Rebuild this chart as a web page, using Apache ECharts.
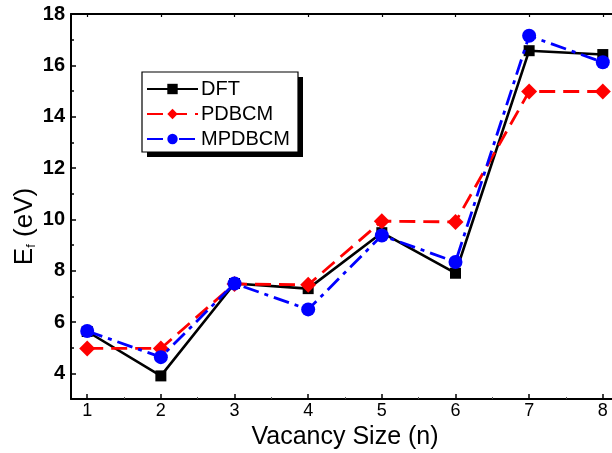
<!DOCTYPE html>
<html>
<head>
<meta charset="utf-8">
<script src="https://cdn.jsdelivr.net/npm/echarts@6/dist/echarts.min.js"></script>
<style>html,body{margin:0;padding:0;background:#fff;}#c{width:612px;height:453px;}</style>
</head>
<body>
<div id="c"></div>
<script>
var sizes = [1, 2, 3, 4, 5, 6, 7, 8];
var dft = [5.63, 3.9, 7.5, 7.3, 9.48, 7.9, 16.57, 16.42];
var pdbcm = [4.97, 4.97, 7.48, 7.45, 9.93, 9.9, 14.98, 14.98];
var mpdbcm = [5.65, 4.63, 7.5, 6.49, 9.37, 8.34, 17.15, 16.12];
var yMajor = [4, 6, 8, 10, 12, 14, 16, 18];
var xMinor = [1.5, 2.5, 3.5, 4.5, 5.5, 6.5, 7.5];

function pairs(v) { return sizes.map(function (x, i) { return [x, v[i]]; }); }

var chart = echarts.init(document.getElementById('c'), null, {renderer: 'canvas'});
var font = 'Liberation Sans, Arial, sans-serif';
var axisLine = {show: true, onZero: false, lineStyle: {color: '#000', width: 2}};
var grid = {left: 71, top: 14, right: -7, bottom: 54, containLabel: false, outerBoundsMode: 'none'};
var xBase = {type: 'value', min: 0.78, max: 8.22, splitLine: {show: false}};

chart.setOption({
  backgroundColor: '#fff',
  animation: false,
  grid: grid,
  graphic: [
    {type: 'rect', z: 10, shape: {x: 147, y: 77, width: 156, height: 80}, style: {fill: '#000'}},
    {type: 'rect', z: 11, shape: {x: 142, y: 72, width: 156, height: 80}, style: {fill: '#fff', stroke: '#000', lineWidth: 1.2}}
  ],
  legend: {
    orient: 'vertical', left: 146, top: 79, z: 20, padding: 0,
    itemWidth: 51, itemHeight: 13, itemGap: 5,
    textStyle: {fontFamily: font, fontSize: 20, color: '#000', padding: [0, 0, 0, -2]},
    data: ['DFT', 'PDBCM', 'MPDBCM']
  },
  xAxis: [
    Object.assign({}, xBase, {
      position: 'bottom', name: 'Vacancy Size (n)', nameLocation: 'middle', nameGap: 20,
      nameTextStyle: {fontFamily: font, fontSize: 25, color: '#000'},
      axisLine: axisLine,
      axisTick: {show: true, inside: true, length: 5, lineStyle: {width: 1.5, color: '#000'}, customValues: sizes},
      axisLabel: {show: true, customValues: sizes, margin: 3, fontFamily: font, fontSize: 18, color: '#000'}
    }),
    Object.assign({}, xBase, {
      position: 'bottom', gridIndex: 0,
      axisLine: {show: false},
      axisTick: {show: true, inside: true, length: 2, lineStyle: {width: 1, color: '#555'}, customValues: xMinor},
      axisLabel: {show: false}
    }),
    Object.assign({}, xBase, {
      position: 'top',
      axisLine: axisLine,
      axisTick: {show: true, inside: true, length: 3, lineStyle: {width: 1.2, color: '#000'}, customValues: sizes},
      axisLabel: {show: false}
    })
  ],
  yAxis: [
    {
      type: 'value', min: 3, max: 18, position: 'left',
      name: '{a|E}{b|f}{a| (eV)}', nameLocation: 'middle', nameGap: 33, nameMoveOverlap: false,
      nameTextStyle: {padding: [0, 40, 0, 0], rich: {
        a: {fontFamily: font, fontSize: 26, color: '#000'},
        b: {fontFamily: font, fontSize: 13, color: '#000', padding: [13, 0, 0, 0]}
      }},
      splitLine: {show: false},
      axisLine: axisLine,
      axisTick: {show: true, inside: true, length: 5, lineStyle: {width: 1.5, color: '#000'}, customValues: yMajor},
      axisLabel: {show: true, customValues: yMajor, margin: 6, fontFamily: font, fontSize: 20, fontWeight: 'bold', color: '#000'}
    },
    {
      type: 'value', min: 3, max: 18, interval: 1, position: 'left',
      splitLine: {show: false},
      axisLine: {show: false},
      axisTick: {show: true, inside: true, length: 3, lineStyle: {width: 1.5, color: '#000'}},
      axisLabel: {show: false}
    }
  ],
  series: [
    {
      name: 'DFT', type: 'line', data: pairs(dft), z: 3,
      symbol: 'rect', symbolSize: 11,
      itemStyle: {color: '#000'},
      lineStyle: {color: '#000', width: 2.6}
    },
    {
      name: 'PDBCM', type: 'line', data: pairs(pdbcm), z: 4,
      symbol: 'diamond', symbolSize: 16,
      itemStyle: {color: '#ff0000'},
      lineStyle: {color: '#ff0000', width: 2.8, type: [16, 8]}
    },
    {
      name: 'MPDBCM', type: 'line', data: pairs(mpdbcm), z: 5,
      symbol: 'circle', symbolSize: 14,
      itemStyle: {color: '#0000ff'},
      lineStyle: {color: '#0000ff', width: 2.8, type: [16, 6, 4, 6]}
    }
  ]
});
</script>
</body>
</html>
